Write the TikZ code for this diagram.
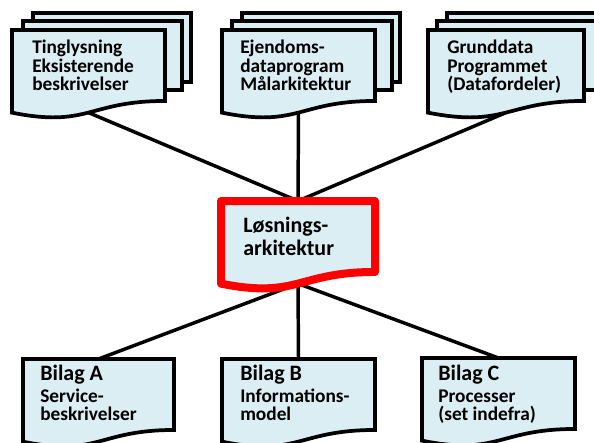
\documentclass[tikz,border=0pt]{standalone}
\usepackage{fontspec}
\setmainfont{Carlito}

\definecolor{pagefill}{RGB}{219,238,243}

% document shape: style, left, top, width, height
\newcommand{\docshape}[5]{%
  \path[#1] (#2,#3) -- ({#2+#4},#3) -- ({#2+#4},{#3+0.802*#5})
    .. controls ({#2+0.5*#4},{#3+0.802*#5}) and ({#2+0.5*#4},{#3+1.1075*#5})
    .. (#2,{#3+0.934*#5}) -- cycle;}

\begin{document}
\begin{tikzpicture}[x=0.75pt,y=-0.75pt,
    page/.style={draw=black,line width=2.8pt,fill=pagefill,line join=miter},
    keypage/.style={draw=red,line width=6pt,fill=pagefill,line join=round},
    link/.style={draw=black,line width=2.6pt},
    doctext/.style={anchor=north west,inner sep=0pt,align=left,
        font=\bfseries\fontsize{14.5}{13.7}\selectfont},
    keytext/.style={doctext,font=\bfseries\fontsize{16.5}{17.3}\selectfont},
    bilagtext/.style={doctext,font=\bfseries\fontsize{14.5}{13.5}\selectfont}]
\useasboundingbox (0,0) rectangle (594,443);

% connection points
\coordinate (tinglysning-in) at (88.5,112.6);
\coordinate (ejendom-in) at (298.5,112.6);
\coordinate (grunddata-in) at (506,112.6);
\coordinate (loesning-top) at (298,201);
\coordinate (loesning-bot) at (298,283.6);
\coordinate (bilagA-top) at (98.5,359);
\coordinate (bilagB-top) at (298.5,359);
\coordinate (bilagC-top) at (498.5,358);

% connectors
\draw[link] (tinglysning-in) -- (loesning-top);
\draw[link] (ejendom-in) -- (loesning-top);
\draw[link] (grunddata-in) -- (loesning-top);
\draw[link] (loesning-bot) -- (bilagA-top);
\draw[link] (loesning-bot) -- (bilagB-top);
\draw[link] (loesning-bot) -- (bilagC-top);

% stacked documents, top row
\path[page] (33,13) rectangle (191,82);
\path[page] (23,21) rectangle (182,90);
\docshape{page}{12}{30}{153}{88.5}

\path[page] (242,13) rectangle (400,82);
\path[page] (232,21) rectangle (392,90);
\docshape{page}{222}{30}{153}{88.5}

\path[page] (447,13) rectangle (609,82);
\path[page] (437,21) rectangle (601,90);
\docshape{page}{428}{30}{156}{88.5}

% the architecture document
\docshape{keypage}{221}{201}{154}{88.5}

% appendices
\docshape{page}{23}{359}{151}{88.5}
\docshape{page}{222}{359}{153}{88.5}
\docshape{page}{422}{358}{153}{88.5}

% texts
\node[doctext] (tinglysning) at (32,40) {Tinglysning\\Eksisterende\\beskrivelser};
\node[doctext] (ejendom) at (240,40) {Ejendoms-\\dataprogram\\Målarkitektur};
\node[doctext] (grunddata) at (447,40) {Grunddata\\Programmet\\(Datafordeler)};
\node[keytext] (loesning) at (243,217) {Løsnings-\\arkitektur};
\node[bilagtext] (bilagA) at (40,365)
    {{\fontsize{16.5}{17}\selectfont Bilag A}\\[3pt]Service-\\beskrivelser};
\node[bilagtext] (bilagB) at (240,365)
    {{\fontsize{16.5}{17}\selectfont Bilag B}\\[3pt]Informations-\\model};
\node[bilagtext] (bilagC) at (438,365)
    {{\fontsize{16.5}{17}\selectfont Bilag C}\\[3pt]Processer\\(set indefra)};

\end{tikzpicture}
\end{document}
